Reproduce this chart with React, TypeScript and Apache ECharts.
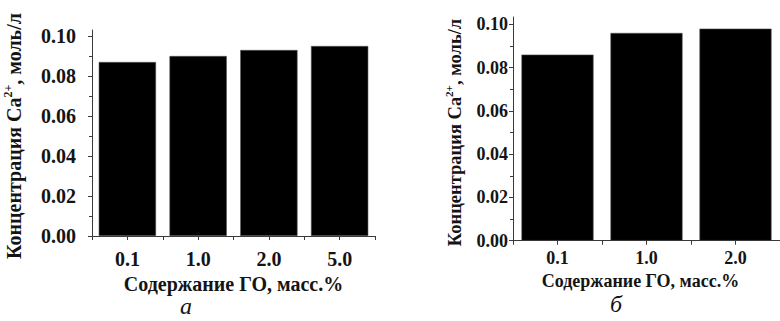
import React, { useEffect, useRef } from "react";
import * as echarts from "echarts";

const categoriesA = ["0.1", "1.0", "2.0", "5.0"];
const valuesA = [0.087, 0.09, 0.093, 0.095];
const categoriesB = ["0.1", "1.0", "2.0"];
const valuesB = [0.086, 0.096, 0.098];
const yTickValues = [0, 0.02, 0.04, 0.06, 0.08, 0.1];
const xTitle = "Содержание ГО, масс.%";
const yTitleRich = "{t|Концентрация Ca}{s|2+}{t|, моль/л}";
const captionA = "а";
const captionB = "б";

const FONT = "Liberation Serif";
const TEXT = "#141414";
const AXIS = "#3a3a3a";

function makeChart(opts: {
  grid: number;
  cats: string[];
  vals: number[];
  fs: number;
  yLabelMargin: number;
  xLabelMargin: number;
  xNameGap: number;
  yNameGap: number;
  yNameFs: number;
  xNameShift: number;
}) {
  const g = opts.grid;
  const xAxes = [
    {
      type: "category",
      gridIndex: g,
      data: opts.cats,
      position: "bottom",
      axisLine: { show: true, lineStyle: { color: AXIS, width: 1 } },
      axisTick: { show: true, alignWithLabel: true, length: 4, lineStyle: { color: AXIS } },
      axisLabel: {
        margin: opts.xLabelMargin,
        fontFamily: FONT,
        fontWeight: "bold",
        fontSize: opts.fs,
        color: TEXT,
      },
      name: xTitle,
      nameLocation: "middle",
      nameGap: opts.xNameGap,
      nameTextStyle: {
        fontFamily: FONT,
        fontWeight: "bold",
        fontSize: opts.fs,
        color: TEXT,
        padding: [0, opts.xNameShift, 0, 0],
      },
    },
    {
      type: "category",
      gridIndex: g,
      data: opts.cats,
      position: "bottom",
      axisLine: { show: false },
      axisTick: { show: true, alignWithLabel: false, length: 4, lineStyle: { color: AXIS } },
      axisLabel: { show: false },
    },
  ];
  const yAxis = {
    type: "value",
    gridIndex: g,
    min: 0,
    max: yTickValues[yTickValues.length - 1],
    interval: yTickValues[1] - yTickValues[0],
    axisLine: { show: true, lineStyle: { color: AXIS, width: 1 } },
    axisTick: { show: true, length: 4, lineStyle: { color: AXIS } },
    minorTick: { show: true, splitNumber: 2, length: 3, lineStyle: { color: AXIS } },
    splitLine: { show: false },
    axisLabel: {
      margin: opts.yLabelMargin,
      fontFamily: FONT,
      fontWeight: "bold",
      fontSize: opts.fs,
      color: TEXT,
      formatter: (v: number) => v.toFixed(2),
    },
    name: yTitleRich,
    nameLocation: "middle",
    nameGap: opts.yNameGap,
    nameRotate: 90,
    nameTextStyle: {
      rich: {
        t: {
          fontFamily: FONT,
          fontWeight: "bold",
          fontSize: opts.yNameFs,
          color: TEXT,
          lineHeight: opts.yNameFs + 4,
        },
        s: {
          fontFamily: FONT,
          fontWeight: "bold",
          fontSize: Math.round(opts.yNameFs * 0.62),
          color: TEXT,
          verticalAlign: "top",
          lineHeight: opts.yNameFs + 4,
          padding: [0, 0, 8, 0],
        },
      },
    },
  };
  const series = {
    type: "bar",
    xAxisIndex: g * 2,
    yAxisIndex: g,
    data: opts.vals,
    barCategoryGap: "19%",
    itemStyle: { color: "#000", borderColor: "#555", borderWidth: 0.6 },
  };
  return { xAxes, yAxis, series };
}

export default function App() {
  const ref = useRef<HTMLDivElement>(null);
  useEffect(() => {
    if (!ref.current) return;
    const chart = echarts.init(ref.current, undefined, { renderer: "svg" });
    const A = makeChart({
      grid: 0,
      cats: categoriesA,
      vals: valuesA,
      fs: 20,
      yLabelMargin: 16,
      xLabelMargin: 13,
      xNameGap: 30,
      yNameGap: 66,
      yNameFs: 20,
      xNameShift: 0,
    });
    const B = makeChart({
      grid: 1,
      cats: categoriesB,
      vals: valuesB,
      fs: 18,
      yLabelMargin: 5,
      xLabelMargin: 8,
      xNameGap: 16,
      yNameGap: 47,
      yNameFs: 18.5,
      xNameShift: 12,
    });
    const extAxisY = (gi: number) => ({
      type: "value",
      gridIndex: gi,
      min: 0,
      max: 1,
      axisLine: { show: true, lineStyle: { color: AXIS, width: 1 } },
      axisTick: { show: false },
      axisLabel: { show: false },
      splitLine: { show: false },
    });
    const extAxisX = (gi: number) => ({
      type: "category",
      gridIndex: gi,
      data: [""],
      show: false,
    });
    chart.setOption({
      animation: false,
      backgroundColor: "#fff",
      grid: [
        { left: 92, top: 36, width: 283, bottom: 85 },
        { left: 513, top: 24.3, right: -8, bottom: 80.3 },
        { left: 92, top: 30, width: 10, bottom: 85 },
        { left: 513, top: 17, width: 10, bottom: 80.3 },
      ],
      xAxis: [...A.xAxes, ...B.xAxes, extAxisX(2), extAxisX(3)],
      yAxis: [A.yAxis, B.yAxis, extAxisY(2), extAxisY(3)],
      series: [A.series, B.series],
      graphic: [
        {
          type: "text",
          left: 180,
          top: 294,
          style: {
            text: captionA,
            fontFamily: FONT,
            fontStyle: "italic",
            fontSize: 24,
            fill: TEXT,
          },
        },
        {
          type: "text",
          left: 610,
          top: 292,
          style: {
            text: captionB,
            fontFamily: FONT,
            fontStyle: "italic",
            fontSize: 24,
            fill: TEXT,
          },
        },
      ],
    });
    return () => chart.dispose();
  }, []);
  return (
    <div
      ref={ref}
      style={{ position: "absolute", left: 0, top: 0, width: 780, height: 321, overflow: "hidden" }}
    />
  );
}
